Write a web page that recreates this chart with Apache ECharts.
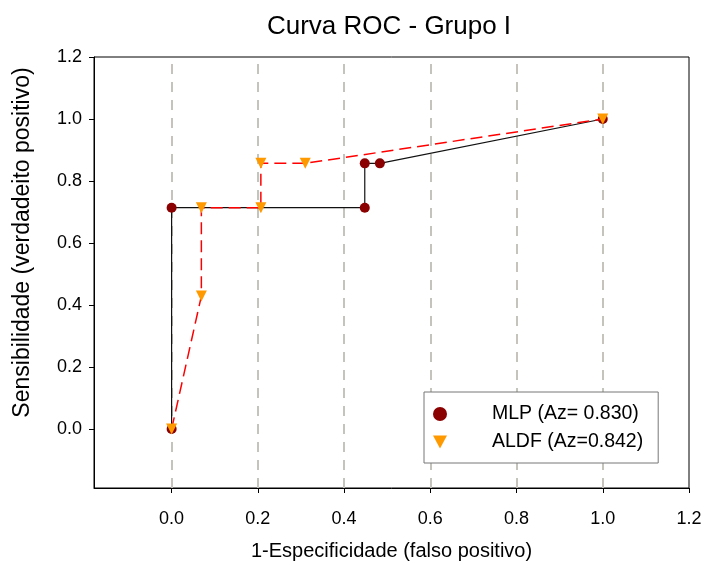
<!DOCTYPE html>
<html>
<head>
    <meta charset="utf-8">
    <script src="https://cdn.jsdelivr.net/npm/echarts@6/dist/echarts.min.js"></script>
    <style>
        body, html {
            margin: 0;
            height: 100%;
            background: #fff;
        }
        #main {
            width: 704px;
            height: 563px;
        }
    </style>
</head>
<body>
<div id="main"></div>

<script>
    var mlpX = [0, 0, 0.448, 0.448, 0.483, 1.0];
    var mlpY = [0, 0.714, 0.714, 0.857, 0.857, 1.0];
    var aldfX = [0, 0.069, 0.069, 0.207, 0.207, 0.310, 1.0];
    var aldfY = [0, 0.429, 0.714, 0.714, 0.857, 0.857, 1.0];
    var tickValues = [0, 0.2, 0.4, 0.6, 0.8, 1.0, 1.2];
    var gridValues = [0, 0.2, 0.4, 0.6, 0.8, 1.0];
    var seriesNames = ['MLP (Az= 0.830)', 'ALDF (Az=0.842)'];

    function pairs(xs, ys) {
        var out = [];
        for (var i = 0; i < xs.length; i++) out.push([xs[i], ys[i]]);
        return out;
    }

    var font = 'Liberation Sans, Arial, sans-serif';
    var myChart = echarts.init(document.getElementById('main'));
    var option = {
        animation: false,
        textStyle: {fontFamily: font, color: '#000'},
        title: {
            text: 'Curva ROC - Grupo I',
            left: 384,
            textAlign: 'center',
            top: 9,
            textStyle: {fontFamily: font, fontSize: 26, fontWeight: 'normal', color: '#000'}
        },
        grid: {
            left: 94, right: 15, top: 57, bottom: 75,
            outerBoundsMode: 'none',
            show: true, borderColor: '#000', borderWidth: 1
        },
        legend: {
            orient: 'vertical',
            left: 424,
            top: 392,
            padding: [12, 15, 11, 9],
            itemGap: 8,
            itemWidth: 14,
            itemHeight: 14,
            borderColor: '#777',
            borderWidth: 1,
            backgroundColor: '#fff',
            textStyle: {fontFamily: font, fontSize: 19.5, color: '#000', padding: [0, 0, 0, 40]},
            data: [
                {name: seriesNames[0], icon: 'circle'},
                {name: seriesNames[1], icon: 'path://M0,0 L12,0 L6,11 Z'}
            ]
        },
        xAxis: {
            type: 'value',
            min: -0.18,
            max: 1.2,
            name: '1-Especificidade (falso positivo)',
            nameLocation: 'middle',
            nameGap: 53,
            nameTextStyle: {fontFamily: font, fontSize: 20, color: '#000'},
            axisLine: {show: true, onZero: false, lineStyle: {color: '#000', width: 1}},
            axisTick: {show: true, customValues: tickValues, length: 5, lineStyle: {color: '#000'}},
            axisLabel: {
                customValues: tickValues, margin: 22, fontSize: 18, color: '#000', fontFamily: font,
                formatter: function (v) { return v.toFixed(1); }
            },
            splitLine: {show: false}
        },
        yAxis: {
            type: 'value',
            min: -0.19,
            max: 1.2,
            name: 'Sensibilidade (verdadeito positivo)',
            nameLocation: 'middle',
            nameGap: 60,
            nameTextStyle: {fontFamily: font, fontSize: 23, color: '#000', padding: [0, 0, 0, 60]},
            axisLine: {show: true, onZero: false, lineStyle: {color: '#000', width: 1}},
            axisTick: {show: true, customValues: tickValues, length: 5, lineStyle: {color: '#000'}},
            axisLabel: {
                customValues: tickValues, margin: 12, fontSize: 18, color: '#000', fontFamily: font,
                formatter: function (v) { return v.toFixed(1); }
            },
            splitLine: {show: false}
        },
        series: [
            {
                name: seriesNames[0],
                type: 'line',
                data: pairs(mlpX, mlpY),
                symbol: 'circle',
                symbolSize: 10,
                itemStyle: {color: '#8B0000'},
                lineStyle: {color: '#111', width: 1.2},
                z: 3,
                markLine: {
                    silent: true,
                    symbol: 'none',
                    label: {show: false},
                    lineStyle: {color: '#c4c4bc', width: 2, type: [10, 8]},
                    data: gridValues.map(function (v) { return {xAxis: v}; }),
                    z: 1
                }
            },
            {
                name: seriesNames[1],
                type: 'line',
                data: pairs(aldfX, aldfY),
                symbol: 'triangle',
                symbolRotate: 180,
                symbolSize: 11,
                itemStyle: {color: '#FF9900'},
                lineStyle: {color: '#FF0000', width: 1.5, type: [12, 6]},
                z: 4
            }
        ]
    };
    myChart.setOption(option);
</script>
</body>
</html>
